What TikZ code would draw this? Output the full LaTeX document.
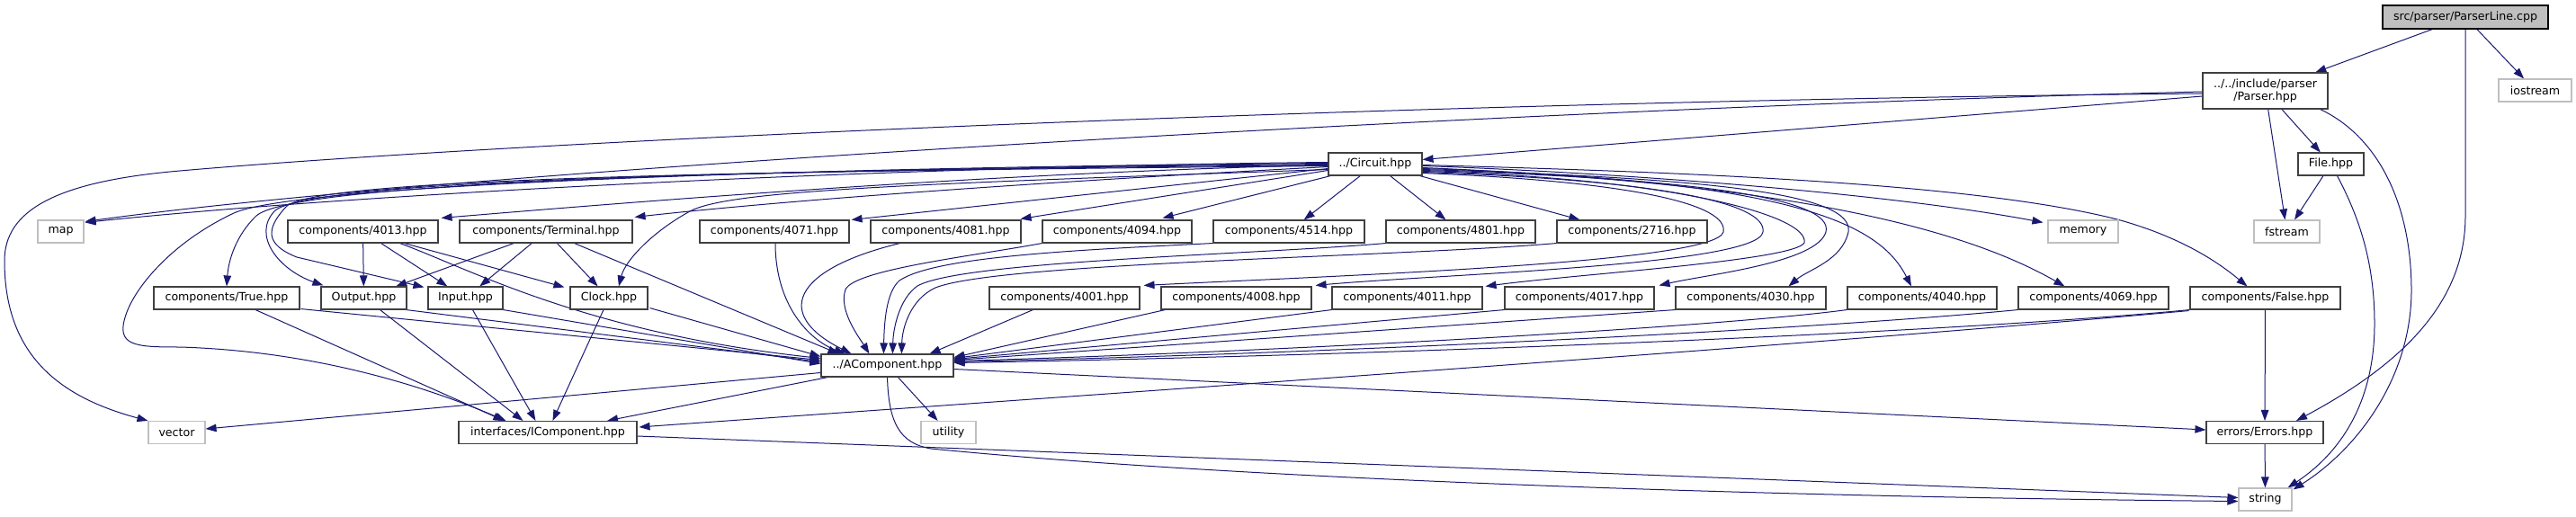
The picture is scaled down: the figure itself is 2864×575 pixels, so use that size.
\documentclass[tikz,border=0pt]{standalone}
\usepackage{fontspec}
\newfontfamily\djv{DejaVu Sans}
\usetikzlibrary{arrows.meta,calc}
\definecolor{edgecol}{HTML}{191970}
\definecolor{nbord}{HTML}{404040}
\definecolor{gbord}{HTML}{BFBFBF}
\definecolor{plfill}{HTML}{BFBFBF}
\pgfdeclarelayer{bg}
\pgfsetlayers{bg,main}
\begin{document}
\begin{tikzpicture}[x=1pt,y=-1pt,
  nb/.style={draw=nbord,line width=1.1pt,fill=white,minimum height=25pt,inner sep=0pt,font=\djv\fontsize{12.6}{14.5}\selectfont,text=black,align=center},
  gb/.style={nb,draw=gbord},
  e/.style={draw=edgecol,line width=1pt,-{Triangle[length=12pt,width=8.5pt]}}]
\useasboundingbox (0,0) rectangle (2864,575);
% nodes
\node[nb,minimum width=184pt,minimum height=26pt,fill=plfill,draw=black] (PL) at (2741,19) {src/parser/ParserLine.cpp};
\node[nb,minimum width=139pt,minimum height=40pt] (Parser) at (2518.5,101) {../../include/parser\\/Parser.hpp};
\node[gb,minimum width=81pt] (iostream) at (2818.5,100.5) {iostream};
\node[nb,minimum width=104pt] (Circuit) at (1529,182.5) {../Circuit.hpp};
\node[nb,minimum width=73pt] (File) at (2591.5,182.5) {File.hpp};
\node[gb,minimum width=51pt] (map) at (67.5,257.5) {map};
\node[nb,minimum width=167pt] (c4013) at (403.5,257.5) {components/4013.hpp};
\node[nb,minimum width=192pt] (Terminal) at (607,257.5) {components/Terminal.hpp};
\node[nb,minimum width=166pt] (c4071) at (861,257.5) {components/4071.hpp};
\node[nb,minimum width=167pt] (c4081) at (1051.5,257.5) {components/4081.hpp};
\node[nb,minimum width=166pt] (c4094) at (1242,257.5) {components/4094.hpp};
\node[nb,minimum width=168pt] (c4514) at (1433,257.5) {components/4514.hpp};
\node[nb,minimum width=166pt] (c4801) at (1624,257.5) {components/4801.hpp};
\node[nb,minimum width=167pt] (c2716) at (1814.5,257.5) {components/2716.hpp};
\node[gb,minimum width=78pt] (memory) at (2316,257.5) {memory};
\node[gb,minimum width=73pt] (fstream) at (2542.5,257.5) {fstream};
\node[nb,minimum width=162pt] (True) at (252,331.5) {components/True.hpp};
\node[nb,minimum width=95pt] (Output) at (404.5,331.5) {Output.hpp};
\node[nb,minimum width=83pt] (Input) at (517.5,331.5) {Input.hpp};
\node[nb,minimum width=86pt] (Clock) at (677,331.5) {Clock.hpp};
\node[nb,minimum width=167pt] (c4001) at (1183.5,331.5) {components/4001.hpp};
\node[nb,minimum width=167pt] (c4008) at (1374.5,331.5) {components/4008.hpp};
\node[nb,minimum width=167pt] (c4011) at (1564.5,331.5) {components/4011.hpp};
\node[nb,minimum width=166pt] (c4017) at (1756,331.5) {components/4017.hpp};
\node[nb,minimum width=167pt] (c4030) at (1946.5,331.5) {components/4030.hpp};
\node[nb,minimum width=166pt] (c4040) at (2137,331.5) {components/4040.hpp};
\node[nb,minimum width=167pt] (c4069) at (2327.5,331.5) {components/4069.hpp};
\node[nb,minimum width=167pt] (False) at (2518.5,331.5) {components/False.hpp};
\node[nb,minimum width=147pt] (AComp) at (986.5,406.5) {../AComponent.hpp};
\node[gb,minimum width=63pt] (vector) at (196.5,481) {vector};
\node[nb,minimum width=198pt] (IComp) at (609,481) {interfaces/IComponent.hpp};
\node[gb,minimum width=61pt] (utility) at (1054.5,481) {utility};
\node[nb,minimum width=130pt] (Errors) at (2518,481) {errors/Errors.hpp};
\node[gb,minimum width=59pt] (string) at (2518.5,555.5) {string};
% edges
\begin{pgfonlayer}{bg}
\fill[white] (0,0) rectangle (2864,575);
\draw[e] (PL) -- (Parser);
\draw[e] (PL) -- (iostream);
\draw[e] (PL.south) -- (2741,240) .. controls (2741,330) and (2680,400) .. ($(Errors.north)+(35,0)$);
\draw[e] ($(Parser.west)+(0,6)$) -- ($(Circuit.east)+(0,-5)$);
\draw[e] ($(Parser.west)+(0,1)$) .. controls (1700,120) and (500,190) .. ($(map.north east)+(1,2)$);
\draw[e] ($(Parser.west)+(0,3)$) .. controls (1600,112) and (600,155) .. (200,190) .. controls (60,202) and (5,235) .. (5,290) .. controls (5,390) and (60,440) .. (vector.north west);
\draw[e] (Parser) -- (File);
\draw[e] (Parser) -- (fstream);
\draw[e] ($(Parser.south east)+(-9,0)$) .. controls (2640,150) and (2680,220) .. (2681,320) .. controls (2682,420) and (2620,500) .. ($(string.north east)+(1,2)$);
\draw[e] ($(File.south)+(7,0)$) .. controls (2622,240) and (2640,290) .. (2640,360) .. controls (2640,450) and (2600,505) .. ($(string.north east)+(-5,0)$);
\draw[e] (File) -- (fstream);
% Circuit
\draw[e] ($(Circuit.west)+(0,-2)$) .. controls (1000,185) and (400,215) .. ($(map.north east)+(1,3)$);
\draw[e] ($(Circuit.west)+(0,1)$) .. controls (1100,192) and (700,225) .. ($(c4013.north east)+(3,-2)$);
\draw[e] ($(Circuit.west)+(0,3)$) .. controls (1200,200) and (900,220) .. ($(Terminal.north east)+(2,-3)$);
\draw[e] ($(Circuit.west)+(0,5)$) -- ($(c4071.north east)+(2,0)$);
\draw[e] ($(Circuit.west)+(0,7)$) -- ($(c4081.north east)+(-1,-1)$);
\draw[e] ($(Circuit.south west)+(3,0)$) -- ($(c4094.north east)+(-33,-2)$);
\draw[e] (Circuit) -- (c4514);
\draw[e] (Circuit) -- (c4801);
\draw[e] ($(Circuit.south east)+(-3,0)$) -- ($(c2716.north west)+(26,0)$);
\draw[e] ($(Circuit.east)+(0,2)$) .. controls (1800,192) and (2100,215) .. ($(memory.north west)+(-5,3)$);
\draw[e] ($(Circuit.east)+(0,1)$) .. controls (1900,192) and (2200,205) .. (2354,244) .. controls (2430,265) and (2470,295) .. ($(False.north)+(-20,0)$);
\draw[e] ($(Circuit.east)+(0,4)$) .. controls (1900,200) and (2150,235) .. ($(c4069.north)+(-32,0)$);
\draw[e] ($(Circuit.east)+(0,5)$) .. controls (2000,200) and (2090,250) .. ($(c4040.north)+(-12,0)$);
\draw[e] ($(Circuit.east)+(0,6)$) .. controls (1900,198) and (2062,215) .. (2055,258) .. controls (2048,290) and (2010,300) .. ($(c4030.north)+(42,0)$);
\draw[e] ($(Circuit.east)+(0,7)$) .. controls (1880,198) and (2040,220) .. (2030,258) .. controls (2020,292) and (1900,305) .. ($(c4017.north east)+(5,-1)$);
\draw[e] ($(Circuit.east)+(0,8)$) .. controls (1860,198) and (2012,240) .. (2006,270) .. controls (1995,290) and (1750,305) .. ($(c4011.north east)+(3,0)$);
\draw[e] ($(Circuit.east)+(0,9)$) .. controls (1840,200) and (1965,225) .. (1960,258) .. controls (1955,295) and (1600,305) .. ($(c4008.north east)+(4,-1)$);
\draw[e] ($(Circuit.east)+(0,10)$) .. controls (1820,202) and (1922,228) .. (1916,258) .. controls (1908,292) and (1500,306) .. ($(c4001.north east)+(4,-1)$);
\draw[e] (Circuit.west) .. controls (900,188) and (330,200) .. (285,240) .. controls (262,262) and (254,290) .. (True.north);
\draw[e] ($(Circuit.west)+(0,1)$) .. controls (900,189) and (340,198) .. (305,235) .. controls (280,262) and (310,300) .. ($(Output.north west)+(3,-1)$);
\draw[e] ($(Circuit.west)+(0,2)$) .. controls (900,190) and (350,196) .. (318,230) .. controls (295,255) and (295,272) .. (330,286) -- ($(Input.north west)+(-4,1)$);
\draw[e] ($(Circuit.west)+(0,-1)$) .. controls (900,186) and (330,205) .. (260,237) .. controls (190,270) and (150,320) .. (140,350) .. controls (128,385) and (150,386) .. (200,386) .. controls (330,390) and (450,420) .. ($(IComp.north west)+(53,0)$);
\draw[e] ($(Circuit.west)+(0,6)$) .. controls (1000,205) and (810,212) .. (767,235) .. controls (725,258) and (695,290) .. ($(Clock.north)+(11,0)$);
% row 3 left
\draw[e] (c4013) -- (Output);
\draw[e] (c4013) -- (Input);
\draw[e] ($(c4013.south east)+(-38,0)$) -- ($(Clock.north west)+(-6,1)$);
\draw[e] ($(c4013.south east)+(-43,0)$) .. controls (520,298) and (650,370) .. ($(AComp.west)+(0,-8)$);
\draw[e] (Terminal) -- (Output);
\draw[e] (Terminal) -- (Input);
\draw[e] (Terminal) -- (Clock);
\draw[e] ($(Terminal.south east)+(-65,0)$) -- ($(AComp.north west)+(20,0)$);
\draw[e] ($(True.south east)+(1,-1)$) -- ($(AComp.west)+(0,-6)$);
\draw[e] ($(True.south)+(32,0)$) -- ($(IComp.north west)+(51,0)$);
\draw[e] ($(Output.south east)+(-1,0)$) -- ($(AComp.west)+(0,-4)$);
\draw[e] ($(Output.south)+(18,0)$) -- ($(IComp.north west)+(72,0)$);
\draw[e] (Input.south east) -- ($(AComp.west)+(0,-2)$);
\draw[e] ($(Input.south)+(8,0)$) -- ($(IComp.north west)+(86,0)$);
\draw[e] ($(Clock.south east)+(2,-2)$) -- ($(AComp.west)+(0,-10)$);
\draw[e] ($(Clock.south)+(-6,0)$) -- ($(IComp.north west)+(105,0)$);
% row 3 middle
\draw[e] ($(c4071.south)+(1,0)$) .. controls (862,340) and (900,378) .. ($(AComp.north west)+(27,0)$);
\draw[e] ($(c4081.south)+(-51,0)$) .. controls (880,300) and (860,350) .. ($(AComp.north west)+(34,0)$);
\draw[e] (c4094.south west) .. controls (1080,285) and (950,300) .. (940,322) .. controls (932,345) and (955,375) .. ($(AComp.north west)+(54,0)$);
\draw[e] (c4514.south west) .. controls (1200,278) and (1040,285) .. (1000,312) .. controls (985,325) and (983,360) .. ($(AComp.north west)+(70,0)$);
\draw[e] (c4801.south west) .. controls (1400,283) and (1070,290) .. (1020,318) .. controls (1000,332) and (993,365) .. ($(AComp.north west)+(80,0)$);
\draw[e] (c2716.south west) .. controls (1550,286) and (1110,292) .. (1040,320) .. controls (1012,333) and (1003,365) .. ($(AComp.north west)+(90,0)$);
% row 4 right
\draw[e] ($(c4001.south)+(-35,0)$) -- ($(AComp.north east)+(-27,0)$);
\draw[e] ($(c4008.south west)+(5,0)$) -- ($(AComp.east)+(0,-9)$);
\draw[e] (c4011.south west) -- ($(AComp.east)+(0,-8)$);
\draw[e] (c4017.south west) -- ($(AComp.east)+(0,-7)$);
\draw[e] (c4030.south west) -- ($(AComp.east)+(0,-6)$);
\draw[e] (c4040.south west) .. controls (1900,365) and (1400,392) .. ($(AComp.east)+(0,-5)$);
\draw[e] (c4069.south west) .. controls (2000,368) and (1450,394) .. ($(AComp.east)+(0,-4)$);
\draw[e] (False.south west) .. controls (2150,372) and (1500,396) .. ($(AComp.east)+(0,-3)$);
\draw[e] ($(False.south west)+(-1,1)$) .. controls (2000,385) and (1200,440) .. ($(IComp.east)+(2,-6)$);
\draw[e] (False) -- (Errors);
% AComponent
\draw[e] (AComp) -- (IComp);
\draw[e] ($(AComp.west)+(0,8)$) -- ($(vector.east)+(0,-4)$);
\draw[e] (AComp) -- (utility);
\draw[e] ($(AComp.east)+(0,4)$) -- ($(Errors.west)+(0,-3)$);
\draw[e] (AComp.south) .. controls (988,470) and (1000,493) .. (1035,499) .. controls (1400,535) and (2000,553) .. ($(string.west)+(0,2)$);
\draw[e] ($(IComp.east)+(0,4)$) -- ($(string.west)+(0,-2)$);
\draw[e] (Errors) -- (string);
\end{pgfonlayer}
\end{tikzpicture}
\end{document}
